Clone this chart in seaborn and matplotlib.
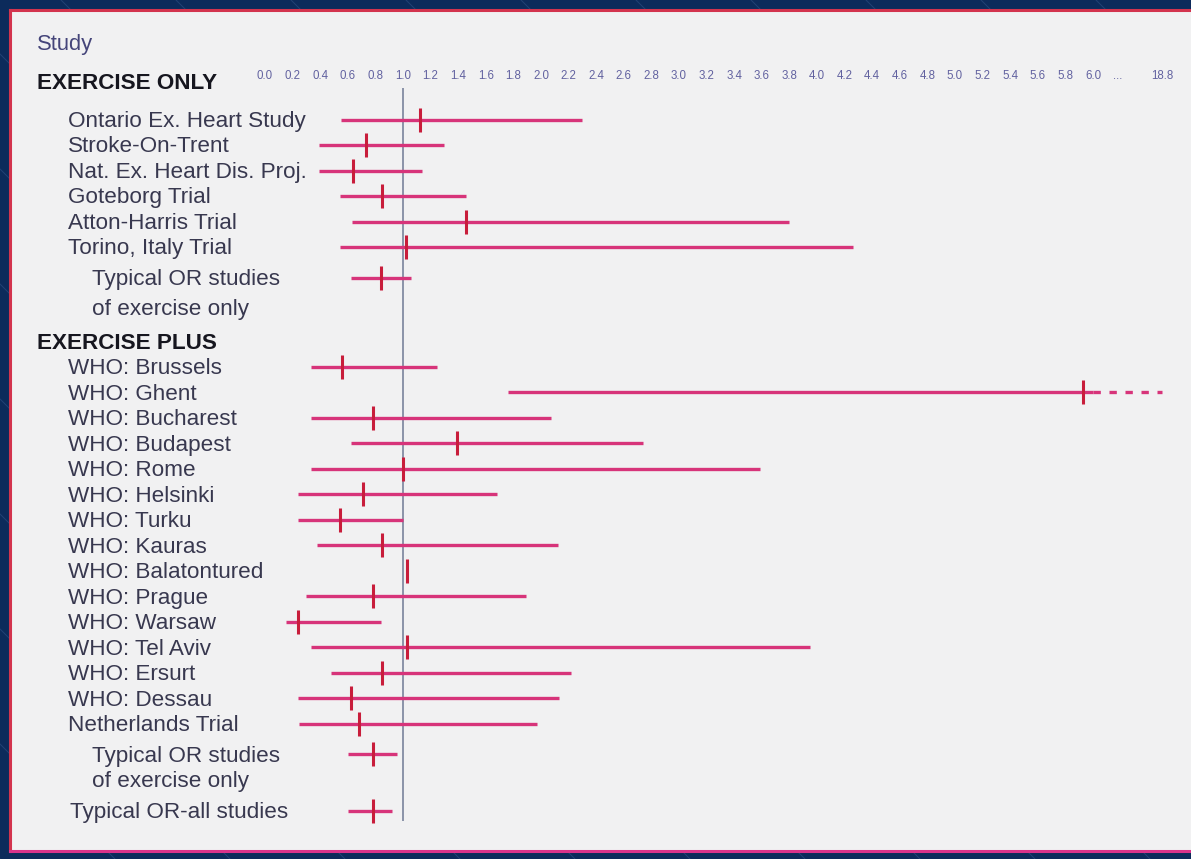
import numpy as np
import pandas as pd
import matplotlib
matplotlib.use("Agg")
import matplotlib.pyplot as plt
import seaborn as sns
from matplotlib.lines import Line2D
from matplotlib.transforms import blended_transform_factory

# ---- data -------------------------------------------------------------
exercise_only_studies = [
    "Ontario Ex. Heart Study", "Stroke-On-Trent", "Nat. Ex. Heart Dis. Proj.",
    "Goteborg Trial", "Atton-Harris Trial", "Torino, Italy Trial",
]
exercise_only_or = [1.12, 0.73, 0.64, 0.85, 1.46, 1.02]
exercise_only_lo = [0.55, 0.39, 0.39, 0.54, 0.63, 0.54]
exercise_only_hi = [2.30, 1.30, 1.14, 1.46, 3.80, 4.26]

pooled_only_label = ["Typical OR studies", "of exercise only"]
pooled_only_or, pooled_only_lo, pooled_only_hi = 0.84, 0.62, 1.06

exercise_plus_studies = [
    "WHO: Brussels", "WHO: Ghent", "WHO: Bucharest", "WHO: Budapest",
    "WHO: Rome", "WHO: Helsinki", "WHO: Turku", "WHO: Kauras",
    "WHO: Balatontured", "WHO: Prague", "WHO: Warsaw", "WHO: Tel Aviv",
    "WHO: Ersurt", "WHO: Dessau", "Netherlands Trial",
]
exercise_plus_or = [0.56, 5.93, 0.78, 1.39, 1.00, 0.71, 0.54, 0.85,
                    1.03, 0.78, 0.24, 1.03, 0.85, 0.62, 0.68]
exercise_plus_lo = [0.33, 1.76, 0.33, 0.62, 0.33, 0.24, 0.24, 0.38,
                    1.03, 0.30, 0.15, 0.33, 0.48, 0.24, 0.25]
exercise_plus_hi = [1.25, 18.8, 2.07, 2.74, 3.59, 1.68, 1.00, 2.12,
                    1.03, 1.89, 0.84, 3.95, 2.22, 2.13, 1.97]

pooled_plus_label = ["Typical OR studies", "of exercise only"]
pooled_plus_or, pooled_plus_lo, pooled_plus_hi = 0.78, 0.60, 0.96

pooled_all_label = "Typical OR-all studies"
pooled_all_or, pooled_all_lo, pooled_all_hi = 0.78, 0.60, 0.92

tick_values = [round(0.2 * i, 1) for i in range(31)]   # 0.0 ... 6.0
far_tick_value = 18.8

# ---- styling ----------------------------------------------------------
NAVY = "#0c2b5b"
PANEL = "#f1f1f2"
BORDER = "#d3344e"
CI_COLOR = "#d7347a"
MARK_COLOR = "#c81d3b"
REF_COLOR = "#8b93a8"
LABEL_COLOR = "#38384f"
HEAD_COLOR = "#16161f"
TICK_COLOR = "#6262a0"
FS = 16.2
TEXT_DROP = 0.07   # row labels sit a touch below the mark centre line

sns.set_theme(style="white")
plt.rcParams["font.family"] = ["Liberation Sans", "DejaVu Sans"]

# broken x axis: linear up to 6.0, compressed beyond
BREAK = 6.0
K = 0.5 / (far_tick_value - BREAK)


def fwd(v):
    v = np.asarray(v, dtype=float)
    return np.where(v <= BREAK, v, BREAK + (v - BREAK) * K)


def inv(d):
    d = np.asarray(d, dtype=float)
    return np.where(d <= BREAK, d, BREAK + (d - BREAK) / K)


# ---- row layout -------------------------------------------------------
rows = []          # (kind, text, y, or, lo, hi)
y = 0.0
rows.append(("title", "Study", y, None, None, None))
y += 1.5
rows.append(("head", "EXERCISE ONLY", y, None, None, None))
header_only_y = y
y += 1.5
for i, name in enumerate(exercise_only_studies):
    if i:
        y += 1.0
    rows.append(("study", name, y, exercise_only_or[i], exercise_only_lo[i], exercise_only_hi[i]))
y += 1.2
rows.append(("pooled", pooled_only_label[0], y, pooled_only_or, pooled_only_lo, pooled_only_hi))
y += 1.2
rows.append(("pooled2", pooled_only_label[1], y, None, None, None))
y += 1.3
rows.append(("head", "EXERCISE PLUS", y, None, None, None))
y += 1.0
for i, name in enumerate(exercise_plus_studies):
    if i:
        y += 1.0
    rows.append(("study", name, y, exercise_plus_or[i], exercise_plus_lo[i], exercise_plus_hi[i]))
y += 1.2
rows.append(("pooled", pooled_plus_label[0], y, pooled_plus_or, pooled_plus_lo, pooled_plus_hi))
y += 1.0
rows.append(("pooled2", pooled_plus_label[1], y, None, None, None))
y += 1.2
rows.append(("all", pooled_all_label, y, pooled_all_or, pooled_all_lo, pooled_all_hi))
last_y = y

df = pd.DataFrame(rows, columns=["kind", "text", "y", "or", "lo", "hi"])
est = df.dropna(subset=["or"]).astype({"or": float, "lo": float, "hi": float})

# ---- figure -----------------------------------------------------------
W, H = 1191, 859
fig = plt.figure(figsize=(W / 100, H / 100), dpi=100, facecolor=NAVY)

# diagonal texture on the navy surround
for c in range(-H, W + 1, 115):
    fig.add_artist(Line2D([c / W, (c + H) / W], [1, 0], transform=fig.transFigure,
                          color="#2b4d80", lw=0.7, alpha=0.7, zorder=-5))

left_px, right_px, top_px, bot_px = 10, 1203, 10, 851
ax = fig.add_axes([left_px / W, (H - bot_px) / H,
                   (right_px - left_px) / W, (bot_px - top_px) / H])
ax.set_facecolor(PANEL)

# confidence intervals (solid up to the axis break, dashed beyond it)
for _, r in est.iterrows():
    hi_solid = min(r["hi"], BREAK)
    if hi_solid > r["lo"]:
        ax.hlines(r["y"], r["lo"], hi_solid, color=CI_COLOR, lw=2.4, zorder=3)
    if r["hi"] > BREAK:
        ax.hlines(r["y"], BREAK, r["hi"], color=CI_COLOR, lw=2.4,
                  linestyles=(0, (2.2, 2.6)), zorder=3)

# point estimates as vertical ticks
sns.scatterplot(data=est, x="or", y="y", marker="|", s=320, linewidth=2.2,
                color=MARK_COLOR, ax=ax, zorder=4, legend=False)

# line of no effect
ax.vlines(1.0, header_only_y + 0.27, last_y + 0.4, color=REF_COLOR, lw=1.4, zorder=2)

ax.set_xscale("function", functions=(fwd, inv))
px_per_unit, zero_px = 138.0, 265.0
ax.set_xlim((left_px - zero_px) / px_per_unit,
            float(inv((right_px - zero_px) / px_per_unit)))
ax.set_ylim((bot_px - 43) / 25.5, (top_px - 43) / 25.5)

# x tick labels sit under the panel's top edge, on the header line
ticks = tick_values + [float(inv(BREAK + 0.18)), far_tick_value]
labels = [f"{v:.1f}" for v in tick_values] + ["...", f"{far_tick_value:.1f}"]
ax.xaxis.tick_top()
ax.set_xticks(ticks)
ax.set_xticklabels(labels)
ax.tick_params(axis="x", length=0, pad=-52, labelsize=8.3, labelcolor=TICK_COLOR)
ax.set_yticks([])
ax.set_xlabel("")
ax.set_ylabel("")
ax.grid(False)

# row labels
tr = blended_transform_factory(ax.transAxes, ax.transData)
xpos = {"title": 0.0226, "head": 0.0226, "study": 0.0486,
        "pooled": 0.0687, "pooled2": 0.0687, "all": 0.0503}
for _, r in df.iterrows():
    kind = r["kind"]
    ty = r["y"] + TEXT_DROP
    if kind == "head":
        ax.text(xpos[kind], ty, r["text"], transform=tr, va="center", ha="left",
                fontsize=FS, fontweight="bold", color=HEAD_COLOR)
    elif kind == "title":
        ax.text(xpos[kind], ty, r["text"], transform=tr, va="center", ha="left",
                fontsize=FS - 0.4, color="#45457a")
    else:
        ax.text(xpos[kind], ty, r["text"], transform=tr, va="center", ha="left",
                fontsize=FS, color=LABEL_COLOR)

# panel frame
for side in ("top", "left", "bottom"):
    ax.spines[side].set_visible(True)
    ax.spines[side].set_color(BORDER)
    ax.spines[side].set_linewidth(2.2)
ax.spines["bottom"].set_color("#d8338a")
ax.spines["right"].set_visible(False)

fig.savefig("out.png", dpi=100, facecolor=NAVY)
